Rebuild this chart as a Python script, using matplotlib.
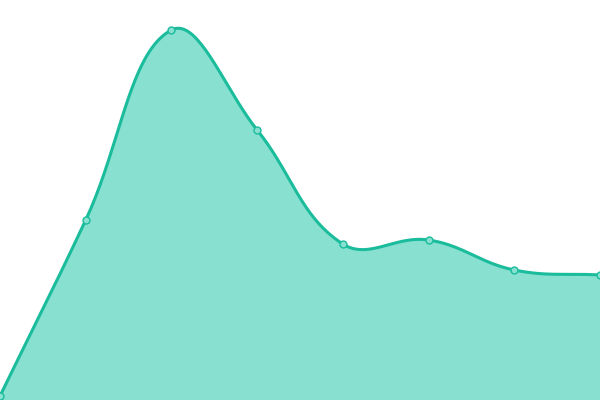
import numpy as np
from matplotlib import pyplot as plt

# values (axis 0..400)
labels = ["1", "2", "3", "4", "5", "6", "7", "8"]
values = [4, 180, 370, 270, 156, 160, 130, 125]

line_color = "#1abc9c"
fill_color = "#88e0d0"


def smooth_curve(y, width=600.0, tension=0.4, steps=40):
    """Bezier spline through the points, control points as in Chart.js."""
    n = len(y)
    px = np.arange(n) * width / (n - 1)
    pts = np.column_stack([px, np.asarray(y, dtype=float)])
    cp_prev = np.zeros_like(pts)
    cp_next = np.zeros_like(pts)
    for i in range(n):
        prev = pts[max(i - 1, 0)]
        cur = pts[i]
        nxt = pts[min(i + 1, n - 1)]
        d01 = np.hypot(*(cur - prev))
        d12 = np.hypot(*(nxt - cur))
        tot = d01 + d12
        fa = tension * d01 / tot if tot else 0
        fb = tension * d12 / tot if tot else 0
        cp_prev[i] = cur - fa * (nxt - prev)
        cp_next[i] = cur + fb * (nxt - prev)
    out = []
    t = np.linspace(0, 1, steps, endpoint=False)[:, None]
    for i in range(n - 1):
        p0, p1, p2, p3 = pts[i], cp_next[i], cp_prev[i + 1], pts[i + 1]
        out.append((1 - t)**3 * p0 + 3 * (1 - t)**2 * t * p1
                   + 3 * (1 - t) * t**2 * p2 + t**3 * p3)
    out.append(pts[-1:])
    out = np.vstack(out)
    return out[:, 0] * (n - 1) / width, out[:, 1]


x = np.arange(len(values))
sx, sy = smooth_curve(values)

fig = plt.figure(figsize=(6, 4), dpi=100)
ax = fig.add_axes([0, 0, 1, 1])
ax.fill_between(sx, sy, 0, color=fill_color, lw=0)
ax.plot(sx, sy, color=line_color, lw=2.2, solid_capstyle="round")
ax.plot(x, values, "o", ms=5, mfc=fill_color, mec=line_color, mew=1)
ax.set_xlim(0, len(values) - 1)
ax.set_ylim(0, 400)
ax.axis("off")
plt.savefig("out.png")
